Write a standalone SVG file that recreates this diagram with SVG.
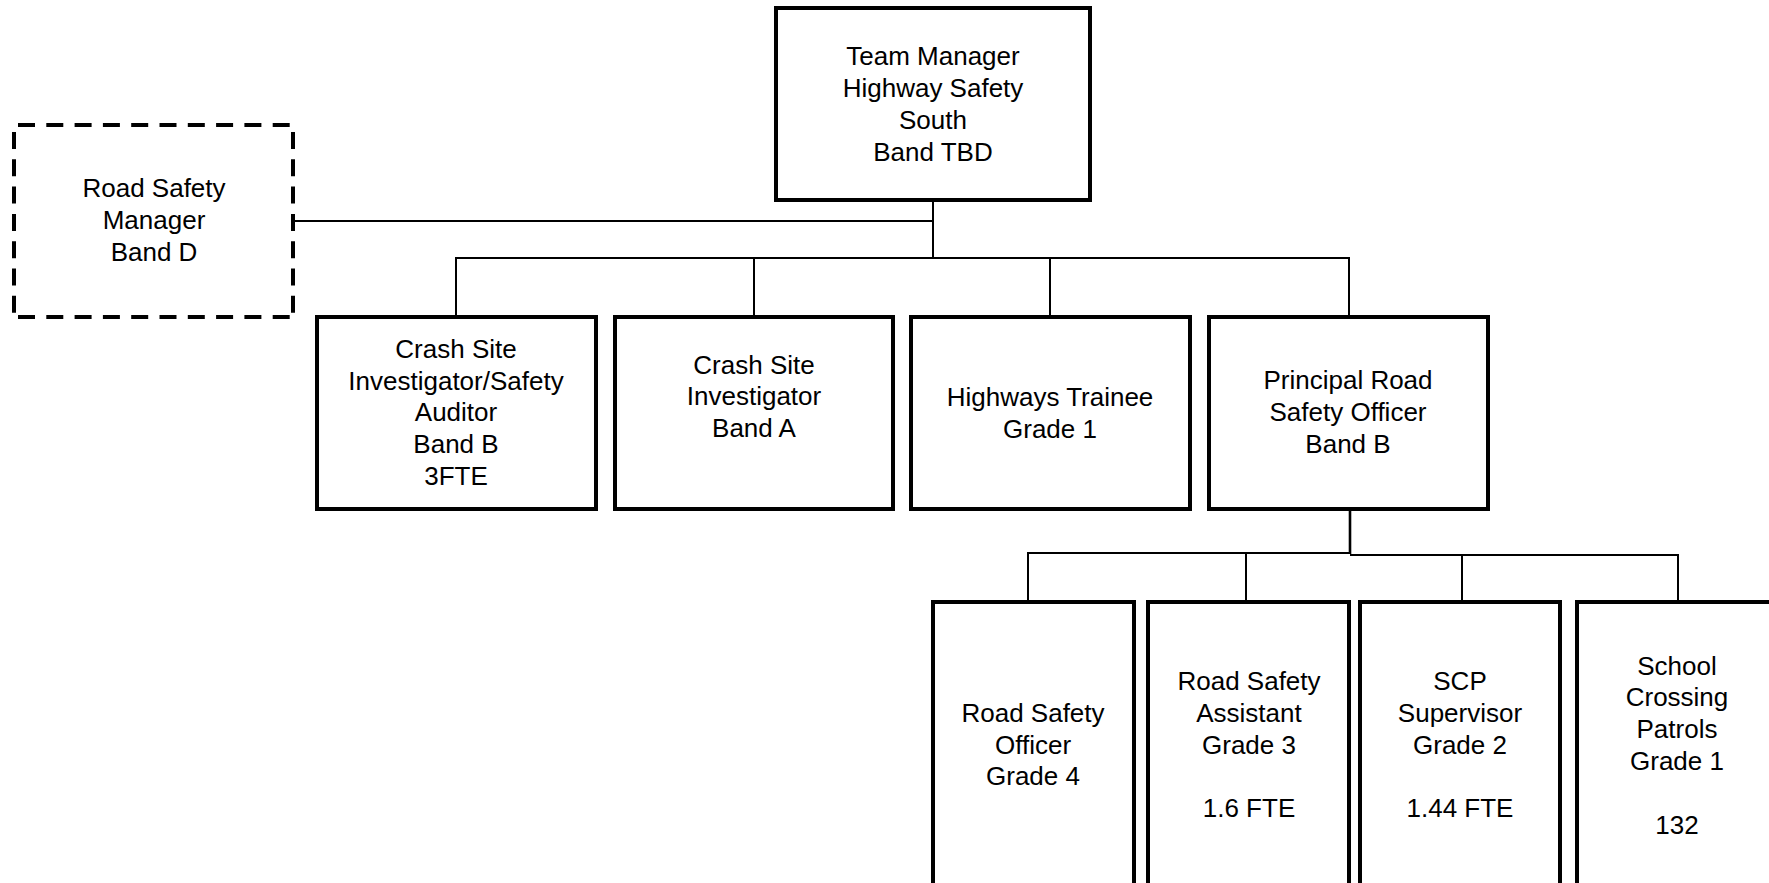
<svg xmlns="http://www.w3.org/2000/svg" width="1769" height="883" viewBox="0 0 1769 883">
<style>
  .box { fill: #ffffff; stroke: #000000; stroke-width: 4; }
  .dash-h { fill: none; stroke: #000000; stroke-width: 4; stroke-dasharray: 17 11.3; }
  .dash-v { fill: none; stroke: #000000; stroke-width: 4; stroke-dasharray: 17 10.3; }
  .conn { fill: none; stroke: #000000; stroke-width: 2; }
  text { font-family: "Liberation Sans", Arial, sans-serif; font-size: 26px; fill: #000000; text-anchor: middle; }
</style>
<rect width="1769" height="883" fill="#ffffff"/>
<g id="connectors">
  <polyline class="conn" points="293,221 933,221"/>
  <polyline class="conn" points="933,200 933,258"/>
  <polyline class="conn" points="456,317 456,258 1349,258 1349,317"/>
  <polyline class="conn" points="754,258 754,317"/>
  <polyline class="conn" points="1050,258 1050,317"/>
  <polyline class="conn" style="stroke-width:2.6" points="1350,509 1350,554"/>
  <polyline class="conn" points="1028,602 1028,553 1350,553"/>
  <polyline class="conn" points="1350,555 1678,555 1678,602"/>
  <polyline class="conn" points="1246,553 1246,602"/>
  <polyline class="conn" points="1462,555 1462,602"/>
</g>
<g id="team-manager">
  <rect class="box" x="776" y="8" width="314" height="192"/>
  <text x="933" y="65">Team Manager</text>
  <text x="933" y="97">Highway Safety</text>
  <text x="933" y="129">South</text>
  <text x="933" y="161">Band TBD</text>
</g>
<g id="road-safety-manager">
  <rect x="14" y="125" width="279" height="192" fill="#ffffff"/>
  <line class="dash-h" x1="18" y1="125" x2="290" y2="125"/>
  <line class="dash-h" x1="18" y1="317" x2="290" y2="317"/>
  <line class="dash-v" x1="14" y1="132" x2="14" y2="313"/>
  <line class="dash-v" x1="293" y1="132" x2="293" y2="313"/>
  <text x="154" y="197">Road Safety</text>
  <text x="154" y="229">Manager</text>
  <text x="154" y="261">Band D</text>
</g>
<g id="crash-site-auditor">
  <rect class="box" x="317" y="317" width="279" height="192"/>
  <text x="456" y="358">Crash Site</text>
  <text x="456" y="390">Investigator/Safety</text>
  <text x="456" y="421">Auditor</text>
  <text x="456" y="453">Band B</text>
  <text x="456" y="485">3FTE</text>
</g>
<g id="crash-site-investigator">
  <rect class="box" x="615" y="317" width="278" height="192"/>
  <text x="754" y="374">Crash Site</text>
  <text x="754" y="405">Investigator</text>
  <text x="754" y="437">Band A</text>
</g>
<g id="highways-trainee">
  <rect class="box" x="911" y="317" width="279" height="192"/>
  <text x="1050" y="406">Highways Trainee</text>
  <text x="1050" y="438">Grade 1</text>
</g>
<g id="principal-rso">
  <rect class="box" x="1209" y="317" width="279" height="192"/>
  <text x="1348" y="389">Principal Road</text>
  <text x="1348" y="421">Safety Officer</text>
  <text x="1348" y="453">Band B</text>
</g>
<g id="road-safety-officer">
  <rect class="box" x="933" y="602" width="201" height="300"/>
  <text x="1033" y="722">Road Safety</text>
  <text x="1033" y="754">Officer</text>
  <text x="1033" y="785">Grade 4</text>
</g>
<g id="road-safety-assistant">
  <rect class="box" x="1148" y="602" width="201" height="300"/>
  <text x="1249" y="690">Road Safety</text>
  <text x="1249" y="722">Assistant</text>
  <text x="1249" y="754">Grade 3</text>
  <text x="1249" y="817">1.6 FTE</text>
</g>
<g id="scp-supervisor">
  <rect class="box" x="1360" y="602" width="200" height="300"/>
  <text x="1460" y="690">SCP</text>
  <text x="1460" y="722">Supervisor</text>
  <text x="1460" y="754">Grade 2</text>
  <text x="1460" y="817">1.44 FTE</text>
</g>
<g id="school-crossing-patrols">
  <rect class="box" x="1577" y="602" width="202" height="300"/>
  <text x="1677" y="675">School</text>
  <text x="1677" y="706">Crossing</text>
  <text x="1677" y="738">Patrols</text>
  <text x="1677" y="770">Grade 1</text>
  <text x="1677" y="834">132</text>
</g>
</svg>
